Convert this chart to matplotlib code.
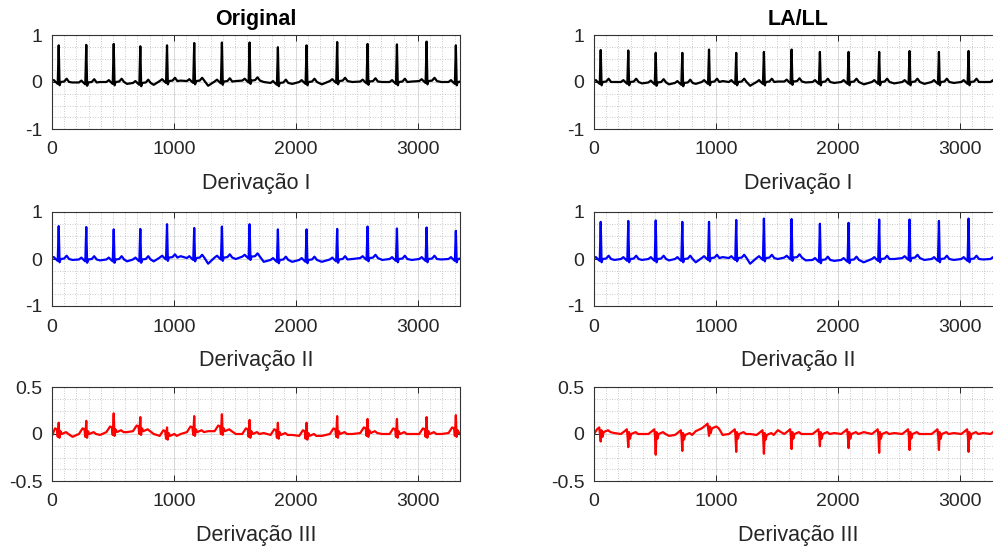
import numpy as np
import matplotlib.pyplot as plt
from matplotlib.ticker import MultipleLocator

plt.rcParams['font.family'] = ['Liberation Sans', 'DejaVu Sans']

# R-peak sample positions and the midpoints between beats (shared by all leads)
beat_pos = [55, 281, 506, 724, 943, 1166, 1393, 1620, 1852, 2087, 2338, 2587, 2828, 3071, 3311]
mid_pos = [0, 168, 394, 615, 834, 1055, 1280, 1507, 1736, 1970, 2212, 2462, 2708, 2950, 3191, 3345]

# Original
orig_I_amp = [0.78, 0.80, 0.81, 0.78, 0.76, 0.81, 0.83, 0.81, 0.76, 0.78, 0.83, 0.80, 0.80, 0.84, 0.78]
orig_I_beat = [0.0, -0.01, 0.0, -0.02, 0.02, 0.02, 0.01, 0.03, -0.02, 0.0, 0.02, 0.01, 0.0, 0.02, 0.0]
orig_I_mid = [0.03, -0.01, 0.0, -0.04, -0.06, 0.03, -0.08, 0.02, 0.0, -0.04, -0.05, 0.0, 0.0, 0.01, 0.0, 0.0]

orig_II_amp = [0.70, 0.69, 0.64, 0.65, 0.71, 0.64, 0.66, 0.69, 0.65, 0.65, 0.65, 0.67, 0.65, 0.67, 0.60]
orig_II_beat = [0.0, -0.01, -0.01, -0.01, 0.03, 0.02, 0.03, 0.05, -0.02, -0.02, -0.01, 0.02, 0.0, 0.0, 0.0]
orig_II_mid = [0.03, -0.02, -0.03, -0.05, -0.05, 0.06, -0.1, 0.0, -0.06, -0.06, -0.06, 0.0, -0.02, -0.02, -0.01, 0.0]

orig_III_amp = [0.12, 0.14, 0.20, 0.15, 0.09, 0.17, 0.18, 0.15, 0.13, 0.14, 0.19, 0.15, 0.16, 0.18, 0.19]
orig_III_beat = [0.0, 0.0, 0.02, 0.03, -0.02, 0.02, 0.03, 0.0, -0.01, -0.02, 0.0, 0.01, 0.0, 0.0, 0.01]
orig_III_mid = [-0.02, -0.03, -0.01, 0.02, 0.0, 0.0, 0.03, 0.0, 0.01, -0.01, -0.02, 0.0, 0.0, 0.0, 0.0, 0.0]

# LA/LL
lall_I_amp = [0.68, 0.67, 0.63, 0.64, 0.69, 0.62, 0.64, 0.68, 0.64, 0.64, 0.64, 0.66, 0.64, 0.66, 0.64]
lall_I_beat = [0.0, 0.0, -0.01, -0.02, 0.0, 0.0, 0.0, 0.01, 0.0, 0.0, 0.0, 0.0, 0.0, 0.0, 0.0]
lall_I_mid = [0.02, 0.0, -0.03, -0.05, -0.04, 0.02, -0.08, 0.01, -0.01, -0.02, -0.05, -0.03, -0.04, -0.02, 0.0, 0.0]

lall_II_amp = [0.79, 0.81, 0.82, 0.79, 0.77, 0.81, 0.84, 0.82, 0.77, 0.79, 0.84, 0.82, 0.81, 0.86, 0.80]
lall_II_beat = [0.0, 0.0, 0.0, 0.0, 0.02, 0.02, 0.02, 0.03, -0.02, -0.02, 0.0, 0.02, 0.0, 0.0, 0.0]
lall_II_mid = [0.02, -0.02, -0.02, -0.03, -0.07, 0.04, -0.1, 0.0, -0.03, -0.04, -0.07, 0.0, -0.02, -0.02, -0.01, 0.0]

lall_III_amp = [-0.10, -0.14, -0.22, -0.17, -0.08, -0.19, -0.20, -0.16, -0.13, -0.15, -0.20, -0.17, -0.17, -0.19, -0.15]
lall_III_beat = [0.02, 0.0, 0.0, -0.01, 0.06, 0.0, -0.01, 0.0, 0.0, 0.0, 0.0, 0.0, 0.0, 0.0, 0.0]
lall_III_mid = [0.0, 0.01, 0.0, -0.02, 0.03, -0.01, 0.0, 0.04, 0.0, 0.01, 0.02, 0.01, 0.0, 0.01, 0.01, 0.01]

# beat shapes: (offset from R in samples, level above baseline)
# None marks the R peak itself
shape_pos = [(-60, 0.0), (-40, 0.04), (-25, 0.0), (-8, -0.04), (0, None), (7, -0.07),
             (16, 0.0), (45, 0.01), (65, 0.07), (85, 0.0)]
shape_III = [(-60, 0.0), (-30, 0.06), (-15, 0.05), (-8, -0.03), (0, None), (6, -0.04),
             (14, 0.03), (25, 0.0), (60, 0.02), (80, 0.0)]
shape_neg = [(-60, 0.0), (-30, 0.03), (-12, 0.05), (-6, -0.02), (0, None), (6, 0.02),
             (14, -0.05), (24, 0.0), (60, 0.02), (80, 0.0)]


def build_trace(amp, base_beat, base_mid, shape):
    """ Join the read-off beats into one polyline. """
    xs, ys = [], []
    for i in range(len(beat_pos)):
        xs.append(mid_pos[i])
        ys.append(base_mid[i])
        for dx, dy in shape:
            x = beat_pos[i] + dx
            if x < 0:
                continue
            xs.append(x)
            ys.append(base_beat[i] + (amp[i] if dy is None else dy))
    xs.append(mid_pos[-1])
    ys.append(base_mid[-1])
    return xs, ys


panels = [
    [(orig_I_amp, orig_I_beat, orig_I_mid, shape_pos, 'k'),
     (lall_I_amp, lall_I_beat, lall_I_mid, shape_pos, 'k')],
    [(orig_II_amp, orig_II_beat, orig_II_mid, shape_pos, 'b'),
     (lall_II_amp, lall_II_beat, lall_II_mid, shape_pos, 'b')],
    [(orig_III_amp, orig_III_beat, orig_III_mid, shape_III, 'r'),
     (lall_III_amp, lall_III_beat, lall_III_mid, shape_neg, 'r')],
]
titles = ['Original', 'LA/LL']
xlabels = ['Derivação I', 'Derivação II', 'Derivação III']

fig = plt.figure(figsize=(9.93, 5.46), dpi=100)
lefts = [52 / 993, 594 / 993]
bottoms = [1 - 129 / 546, 1 - 306 / 546, 1 - 481 / 546]
w = 408 / 993
h = 94 / 546
txt = '#262626'

for r in range(3):
    for c in range(2):
        ax = fig.add_axes([lefts[c], bottoms[r], w, h])
        amp, bb, bm, shape, col = panels[r][c]
        xs, ys = build_trace(amp, bb, bm, shape)
        ax.plot(xs, ys, color=col, lw=1.6)
        ax.set_xlim(0, 3345)
        if r < 2:
            ax.set_ylim(-1, 1)
            ax.set_yticks([-1, 0, 1])
            ax.set_yticklabels(['-1', '0', '1'])
            ax.yaxis.set_minor_locator(MultipleLocator(0.25))
        else:
            ax.set_ylim(-0.5, 0.5)
            ax.set_yticks([-0.5, 0, 0.5])
            ax.set_yticklabels(['-0.5', '0', '0.5'])
            ax.yaxis.set_minor_locator(MultipleLocator(0.125))
        ax.set_xticks([0, 1000, 2000, 3000])
        ax.xaxis.set_minor_locator(MultipleLocator(100))
        ax.grid(which='major', color='#d8d8d8', lw=0.7, ls='-')
        ax.grid(which='minor', color='#c4c4c4', lw=0.6, ls=(0, (1.2, 1.8)))
        ax.set_axisbelow(True)
        ax.tick_params(which='major', direction='in', length=4, width=0.7, colors=txt,
                       labelsize=14, top=True, right=True, pad=7)
        ax.tick_params(which='minor', length=0)
        ax.tick_params(axis='x', pad=9)
        for s in ax.spines.values():
            s.set_color('#333333')
            s.set_linewidth(0.8)
        ax.set_xlabel(xlabels[r], fontsize=15.5, color=txt, labelpad=10.5)
        if r == 0:
            ax.set_title(titles[c], fontsize=15.5, fontweight='bold', color='k', pad=7)

plt.savefig('out.png', dpi=100)
